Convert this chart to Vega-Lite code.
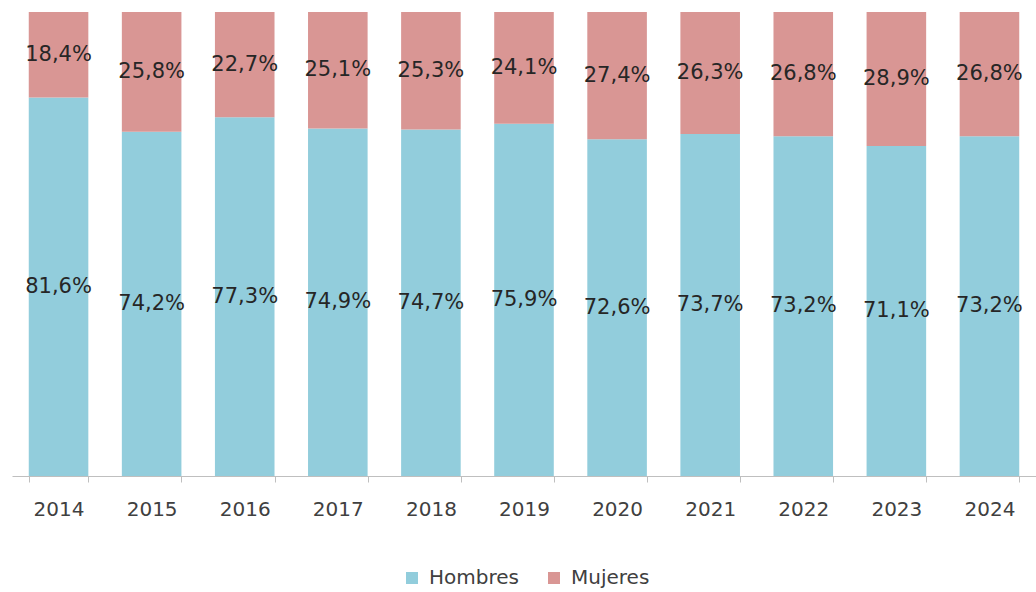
{
  "$schema": "https://vega.github.io/schema/vega-lite/v6.json",
  "width": 1024,
  "height": 464,
  "padding": {"left": 12, "top": 12, "right": 0, "bottom": 0},
  "background": "white",
  "config": {
    "view": {"stroke": null},
    "font": "DejaVu Sans",
    "locale": {"number": {"decimal": ",", "thousands": ".", "grouping": [3], "currency": ["", " €"]}}
  },
  "data": {
    "values": [
      {"year": "2014", "sexo": "Hombres", "valor": 0.816},
      {"year": "2014", "sexo": "Mujeres", "valor": 0.184},
      {"year": "2015", "sexo": "Hombres", "valor": 0.742},
      {"year": "2015", "sexo": "Mujeres", "valor": 0.258},
      {"year": "2016", "sexo": "Hombres", "valor": 0.773},
      {"year": "2016", "sexo": "Mujeres", "valor": 0.227},
      {"year": "2017", "sexo": "Hombres", "valor": 0.749},
      {"year": "2017", "sexo": "Mujeres", "valor": 0.251},
      {"year": "2018", "sexo": "Hombres", "valor": 0.747},
      {"year": "2018", "sexo": "Mujeres", "valor": 0.253},
      {"year": "2019", "sexo": "Hombres", "valor": 0.759},
      {"year": "2019", "sexo": "Mujeres", "valor": 0.241},
      {"year": "2020", "sexo": "Hombres", "valor": 0.726},
      {"year": "2020", "sexo": "Mujeres", "valor": 0.274},
      {"year": "2021", "sexo": "Hombres", "valor": 0.737},
      {"year": "2021", "sexo": "Mujeres", "valor": 0.263},
      {"year": "2022", "sexo": "Hombres", "valor": 0.732},
      {"year": "2022", "sexo": "Mujeres", "valor": 0.268},
      {"year": "2023", "sexo": "Hombres", "valor": 0.711},
      {"year": "2023", "sexo": "Mujeres", "valor": 0.289},
      {"year": "2024", "sexo": "Hombres", "valor": 0.732},
      {"year": "2024", "sexo": "Mujeres", "valor": 0.268}
    ]
  },
  "transform": [
    {"calculate": "datum.sexo === 'Hombres' ? 0 : 1", "as": "ord"},
    {"stack": "valor", "groupby": ["year"], "sort": [{"field": "ord", "order": "ascending"}], "as": ["v0", "v1"]},
    {"calculate": "(datum.v0 + datum.v1) / 2", "as": "vmid"}
  ],
  "encoding": {
    "x": {
      "field": "year",
      "type": "nominal",
      "title": null,
      "scale": {"paddingInner": 0.36, "paddingOuter": 0.18},
      "axis": {
        "labelAngle": 0,
        "tickBand": "extent",
        "domainColor": "#bfbfbf",
        "tickColor": "#bfbfbf",
        "tickSize": 6,
        "labelFontSize": 20,
        "labelColor": "#404040",
        "labelPadding": 17,
        "labelFont": "DejaVu Sans"
      }
    }
  },
  "layer": [
    {
      "mark": {"type": "bar"},
      "encoding": {
        "y": {"field": "v0", "type": "quantitative", "scale": {"domain": [0, 1]}, "axis": null},
        "y2": {"field": "v1"},
        "color": {
          "field": "sexo",
          "type": "nominal",
          "scale": {"domain": ["Hombres", "Mujeres"], "range": ["#92cddc", "#d99694"]},
          "legend": {
            "title": null,
            "orient": "none",
            "legendX": 390,
            "legendY": 556,
            "direction": "horizontal",
            "symbolType": "square",
            "symbolSize": 144,
            "symbolStrokeWidth": 0,
            "labelFontSize": 20,
            "labelColor": "#404040",
            "labelFont": "DejaVu Sans",
            "labelOffset": 7,
            "columnPadding": 25
          }
        }
      }
    },
    {
      "mark": {"type": "text", "fontSize": 21, "color": "#262626", "baseline": "middle"},
      "encoding": {
        "y": {"field": "vmid", "type": "quantitative", "scale": {"domain": [0, 1]}},
        "text": {"field": "valor", "type": "quantitative", "format": ".1%"}
      }
    }
  ]
}
